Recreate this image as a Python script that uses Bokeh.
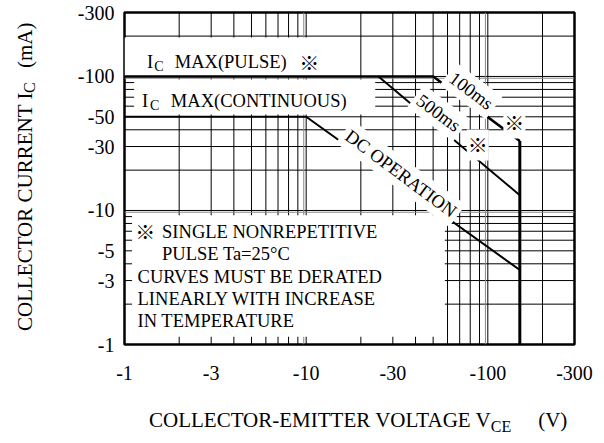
from bokeh.plotting import figure
from bokeh.models import FixedTicker, CustomJSTickFormatter, Range1d, Div
from bokeh.layouts import row, column
from bokeh.core.properties import value
from bokeh.embed import file_html
from bokeh.resources import INLINE

# ---------------- data ----------------
x_tick_values = [1, 3, 10, 30, 100, 300]
y_tick_values = [1, 3, 5, 10, 30, 50, 100, 300]

grid_values = [2, 3, 4, 5, 6, 7, 8, 9, 10, 20, 30, 40, 50, 60, 70, 80, 90, 100, 200]
grid_double_values = [9.7, 97]

# SOA boundary curves (|VCE| in V, |IC| in mA)
pulse_vce = [1, 50, 150]
pulse_ic = [100, 100, 33]
ms500_vce = [25, 150]
ms500_ic = [100, 13]
dc_vce = [1, 10, 150]
dc_ic = [50, 50, 3.6]
vceo_vce = [150, 150]
vceo_ic = [33, 1]

# white masks behind the annotations
mask_left = [1.0, 1.13, 1.1]
mask_right = [19.3, 24, 58]
mask_bottom = [101, 52, 1.14]
mask_top = [195, 95, 9.2]

FONT = value("Liberation Serif")
CJK = value("Noto Sans CJK JP")

YDIV_W = 50
P_W, P_H = 588 - YDIV_W, 396

p = figure(width=P_W, height=P_H, x_axis_type="log", y_axis_type="log",
           x_range=Range1d(1, 300), y_range=Range1d(1, 300),
           output_backend="svg", toolbar_location=None,
           min_border_left=64, min_border_right=24, min_border_top=12, min_border_bottom=52)
p.xgrid.visible = False
p.ygrid.visible = False
p.outline_line_color = "black"
p.outline_line_width = 2.5
p.background_fill_color = "white"
p.border_fill_color = "white"

fmt = CustomJSTickFormatter(code="return '-' + tick;")
for ax, ticks in ((p.xaxis, x_tick_values), (p.yaxis, y_tick_values)):
    ax.ticker = FixedTicker(ticks=ticks, minor_ticks=[])
    ax.formatter = fmt
    ax.axis_line_color = None
    ax.major_tick_line_color = None
    ax.minor_tick_line_color = None
    ax.major_tick_out = 0
    ax.major_tick_in = 0
    ax.major_label_text_font = "Liberation Serif"
    ax.major_label_text_font_size = "20px"
    ax.major_label_text_color = "black"
p.xaxis.major_label_standoff = 21
p.yaxis.major_label_standoff = 10

n = len(grid_values)
p.segment(x0=grid_values, y0=[1] * n, x1=grid_values, y1=[300] * n, line_color="black", line_width=1)
p.segment(x0=[1] * n, y0=grid_values, x1=[300] * n, y1=grid_values, line_color="black", line_width=1)
m = len(grid_double_values)
p.segment(x0=grid_double_values, y0=[1] * m, x1=grid_double_values, y1=[300] * m, line_color="#888888", line_width=1)
p.segment(x0=[1] * m, y0=grid_double_values, x1=[300] * m, y1=grid_double_values, line_color="#888888", line_width=1)

# masks
p.quad(left=mask_left, right=mask_right, bottom=mask_bottom, top=mask_top,
       fill_color="white", line_color=None)

# curves
p.line(pulse_vce, pulse_ic, line_color="black", line_width=2.6)
p.line(ms500_vce, ms500_ic, line_color="black", line_width=2)
p.line(dc_vce, dc_ic, line_color="black", line_width=2)
p.line(vceo_vce, vceo_ic, line_color="black", line_width=3)

ANG = -0.64

# rotated curve labels
p.text(x=[80.9, 53.5, 33.2], y=[78, 53.3, 18.8], text=["100ms", "500ms", "DC OPERATION"],
       angle=ANG, text_font=FONT, text_font_size="18.5px", text_align="center",
       text_baseline="middle", text_color="black",
       background_fill_color="white", padding=4)
p.text(x=[140, 88], y=[45, 30.8], text=["※", "※"], text_font=CJK, text_font_size="20px",
       text_align="center", text_baseline="middle", text_color="black",
       background_fill_color="white", padding=1)

# I_C MAX labels
p.text(x=[1.33, 1.25], y=[128, 66], text=["I", "I"], text_font=FONT, text_font_size="18.5px",
       text_align="left", text_baseline="middle", text_color="black")
p.text(x=[1.46, 1.38], y=[118, 61], text=["C", "C"], text_font=FONT, text_font_size="14px",
       text_align="left", text_baseline="middle", text_color="black")
p.text(x=[1.89, 1.80], y=[128, 66], text=["MAX(PULSE)", "MAX(CONTINUOUS)"], text_font=FONT,
       text_font_size="18.5px", text_align="left", text_baseline="middle", text_color="black")
p.text(x=[10.4], y=[128], text=["※"], text_font=CJK, text_font_size="20px",
       text_align="center", text_baseline="middle", text_color="black")

# notes block
p.text(x=[1.30], y=[6.95], text=["※"], text_font=CJK, text_font_size="20px",
       text_align="center", text_baseline="middle", text_color="black")
p.text(x=[1.61, 1.61, 1.18, 1.18, 1.18], y=[6.95, 4.75, 3.19, 2.18, 1.51],
       text=["SINGLE NONREPETITIVE", "PULSE Ta=25°C", "CURVES MUST BE DERATED",
             "LINEARLY WITH INCREASE", "IN TEMPERATURE"],
       text_font=FONT, text_font_size="18.5px", text_align="left", text_baseline="middle",
       text_color="black")

# axis titles as HTML (real text with subscripts)
ytitle = Div(width=YDIV_W, height=427, text=(
    '<div style="margin-top:4px; height:336px; width:40px; writing-mode:vertical-rl; '
    'transform:rotate(180deg); text-align:center; line-height:40px; white-space:nowrap; '
    'font-family:\'Liberation Serif\'; font-size:21px; color:black;">'
    'COLLECTOR CURRENT I<span style="font-size:16px; position:relative; left:-5px;">C</span>'
    '<span style="margin-top:14px; display:inline-block;">(mA)</span></div>'))

xtitle = Div(width=P_W, height=427 - P_H, text=(
    '<div style="margin-left:84px; padding-top:8px; line-height:22px; white-space:nowrap; '
    'font-family:\'Liberation Serif\'; font-size:21px; color:black;">'
    'COLLECTOR-EMITTER VOLTAGE V<span style="font-size:16px; position:relative; top:5px;">CE</span>'
    '<span style="margin-left:27px;">(V)</span></div>'))

layout = row(ytitle, column(p, xtitle))

open("out.html", "w").write(file_html(layout, INLINE))
